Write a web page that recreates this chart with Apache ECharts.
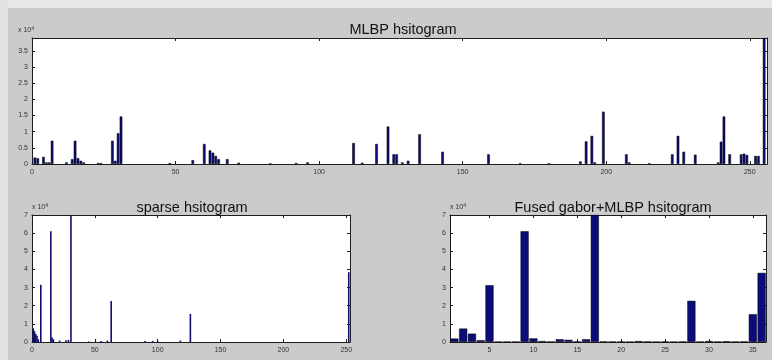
<!DOCTYPE html>
<html><head><meta charset="utf-8">
<script src="https://cdn.jsdelivr.net/npm/echarts@6/dist/echarts.min.js"></script>
<style>html,body{margin:0;padding:0;background:#cbcbcb}#c{width:772px;height:360px}</style>
</head><body><div id="c"></div>
<script>
// MLBP histogram (values in units of 10^4)
const mlbpBins   = [1, 2, 4, 5, 6, 7, 12, 14, 15, 16, 17, 18, 23, 24, 28, 29, 30, 31, 48, 56, 60, 62, 63, 64, 65, 68, 72, 83, 92, 96, 112, 115, 120, 124, 126, 127, 129, 131, 135, 143, 159, 170, 180, 191, 193, 195, 196, 199, 207, 208, 215, 223, 225, 227, 231, 239, 240, 241, 243, 247, 248, 249, 252, 253, 255];
const mlbpValues = [0.2, 0.18, 0.22, 0.05, 0.05, 0.72, 0.05, 0.15, 0.72, 0.18, 0.1, 0.05, 0.03, 0.03, 0.72, 0.1, 0.95, 1.47, 0.03, 0.12, 0.62, 0.42, 0.35, 0.25, 0.15, 0.15, 0.04, 0.02, 0.03, 0.05, 0.65, 0.04, 0.62, 1.16, 0.3, 0.3, 0.05, 0.1, 0.92, 0.38, 0.3, 0.02, 0.02, 0.08, 0.7, 0.87, 0.05, 1.62, 0.3, 0.05, 0.02, 0.3, 0.87, 0.38, 0.29, 0.05, 0.69, 1.47, 0.3, 0.3, 0.32, 0.28, 0.25, 0.25, 3.9];

// sparse histogram (values in units of 10^4)
const sparseBins   = [1, 2, 3, 4, 5, 7, 15, 16, 17, 22, 27, 29, 31, 45, 55, 60, 63, 90, 96, 100, 118, 126, 252];
const sparseValues = [0.75, 0.6, 0.45, 0.35, 0.15, 3.15, 6.1, 0.25, 0.15, 0.08, 0.1, 0.12, 7.0, 0.03, 0.05, 0.08, 2.26, 0.05, 0.06, 0.04, 0.08, 1.55, 3.85];

// fused gabor+MLBP histogram (values in units of 10^4)
const fusedCategories = [1,2,3,4,5,6,7,8,9,10,11,12,13,14,15,16,17,18,19,20,21,22,23,24,25,26,27,28,29,30,31,32,33,34,35,36];
const fusedValues = [0.19, 0.74, 0.46, 0.1, 3.13, 0.02, 0.02, 0.02, 6.1, 0.2, 0.05, 0.02, 0.15, 0.12, 0.03, 0.15, 7.0, 0.03, 0.02, 0.02, 0.01, 0.05, 0.03, 0.01, 0.02, 0.01, 0.03, 2.27, 0.02, 0.05, 0.02, 0.04, 0.02, 0.03, 1.53, 3.81];

const titles = ['MLBP hsitogram', 'sparse hsitogram', 'Fused gabor+MLBP hsitogram'];
const exponentText = 'x 10';
const exponentPower = '4';

const axisColor = '#1e1e1e';
const font = 'Liberation Sans, Arial, sans-serif';
const lbl = {fontSize: 7, color: '#333', fontFamily: font};

function valAxis(grid, pos, min, max, interval, labels, showMax) {
  return {
    type: 'value', gridIndex: grid, position: pos, min: min, max: max, interval: interval,
    axisLine: {show: true, onZero: false, lineStyle: {color: axisColor, width: 1}},
    axisTick: {show: true, inside: true, length: 3, lineStyle: {color: axisColor}},
    axisLabel: Object.assign({show: labels, showMaxLabel: showMax, margin: (pos === 'left' ? 4 : 5)}, lbl),
    splitLine: {show: false}
  };
}
function catAxis(grid, pos, labels) {
  const f = (i, v) => Number(v) % 5 === 0;
  return {
    type: 'category', gridIndex: grid, position: pos, data: fusedCategories,
    axisLine: {show: true, onZero: false, lineStyle: {color: axisColor, width: 1}},
    axisTick: {show: true, inside: true, length: 3, alignWithLabel: true, interval: f, lineStyle: {color: axisColor}},
    axisLabel: Object.assign({show: labels, interval: f, margin: 5}, lbl),
    splitLine: {show: false}
  };
}

const barStyle = {color: '#0b0b7a', borderColor: '#000', borderWidth: 0.5};
const titleStyle = {fontSize: 14.5, fontWeight: 'normal', color: '#111', fontFamily: font};
const expRich = {a: {fontSize: 7, fill: '#333', fontFamily: font}, b: {fontSize: 5, fill: '#333', verticalAlign: 'top', padding: [0,0,4,0]}};

const chart = echarts.init(document.getElementById('c'), null, {renderer: 'canvas'});
chart.setOption({
  animation: false,
  backgroundColor: '#cbcbcb',
  title: [
    {text: titles[0], left: 398, top: 17, textAlign: 'center', textStyle: titleStyle},
    {text: titles[1], left: 187, top: 195, textAlign: 'center', textStyle: titleStyle},
    {text: titles[2], left: 608, top: 195, textAlign: 'center', textStyle: titleStyle}
  ],
  grid: [
    {left: 32, top: 38, width: 735, height: 126, show: true, backgroundColor: '#fff', borderWidth: 0, containLabel: false},
    {left: 32, top: 215, width: 318, height: 127, show: true, backgroundColor: '#fff', borderWidth: 0, containLabel: false},
    {left: 450, top: 215, width: 316, height: 127, show: true, backgroundColor: '#fff', borderWidth: 0, containLabel: false}
  ],
  xAxis: [
    valAxis(0, 'bottom', 0, 256, 50, true, false),
    valAxis(0, 'top', 0, 256, 50, false, false),
    valAxis(1, 'bottom', 0, 253, 50, true, false),
    valAxis(1, 'top', 0, 253, 50, false, false),
    catAxis(2, 'bottom', true),
    catAxis(2, 'top', false)
  ],
  yAxis: [
    valAxis(0, 'left', 0, 3.9, 0.5, true, false),
    valAxis(0, 'right', 0, 3.9, 0.5, false, false),
    valAxis(1, 'left', 0, 7, 1, true, true),
    valAxis(1, 'right', 0, 7, 1, false, true),
    valAxis(2, 'left', 0, 7, 1, true, true),
    valAxis(2, 'right', 0, 7, 1, false, true)
  ],
  series: [
    {type: 'bar', xAxisIndex: 0, yAxisIndex: 0, barWidth: 2.6, itemStyle: barStyle,
     data: mlbpBins.map((b, i) => [b, mlbpValues[i]])},
    {type: 'bar', xAxisIndex: 2, yAxisIndex: 2, barWidth: 1.6, itemStyle: {color: '#10106e'},
     data: sparseBins.map((b, i) => [b, sparseValues[i]])},
    {type: 'bar', xAxisIndex: 4, yAxisIndex: 4, barCategoryGap: '8%', itemStyle: barStyle,
     data: fusedValues}
  ],
  graphic: [
    {type: 'rect', left: 0, top: 0, z: -1, shape: {width: 772, height: 8}, style: {fill: '#e8e8e8'}},
    {type: 'rect', left: 0, top: 0, z: -1, shape: {width: 8, height: 360}, style: {fill: '#e2e2e2'}},
    {type: 'text', left: 18, top: 26, style: {text: '{a|' + exponentText + '}{b|' + exponentPower + '}', rich: expRich}},
    {type: 'text', left: 32, top: 203, style: {text: '{a|' + exponentText + '}{b|' + exponentPower + '}', rich: expRich}},
    {type: 'text', left: 450, top: 203, style: {text: '{a|' + exponentText + '}{b|' + exponentPower + '}', rich: expRich}}
  ]
});
</script></body></html>
